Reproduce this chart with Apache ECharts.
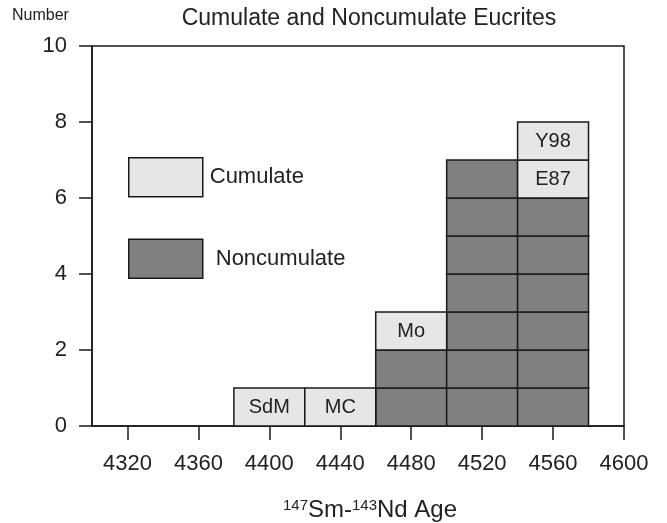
<!DOCTYPE html>
<html>
<head>
<meta charset="utf-8">
<script src="https://cdn.jsdelivr.net/npm/echarts@6/dist/echarts.min.js"></script>
<style>
  html, body { margin: 0; padding: 0; background: #fff; }
  #chart { width: 667px; height: 523px; }
</style>
</head>
<body>
<div id="chart"></div>
<script>
// bins of 40 Ma, left edges
const binStarts = [4380, 4420, 4460, 4500, 4540];
const binWidth = 40;
// number of noncumulate eucrites in each bin
const noncumulateCounts = [0, 0, 2, 7, 6];
// cumulate eucrites stacked on top, one box per sample
const cumulateNames = [['SdM'], ['MC'], ['Mo'], [], ['E87', 'Y98']];
const xTicks = [4320, 4360, 4400, 4440, 4480, 4520, 4560, 4600];

// one unit box per meteorite: [x0, x1, y0, y1, label]
const nonCells = [];
const cumCells = [];
binStarts.forEach((x0, i) => {
  const x1 = x0 + binWidth;
  for (let k = 0; k < noncumulateCounts[i]; k++) {
    nonCells.push([x0, x1, k, k + 1, '']);
  }
  cumulateNames[i].forEach((name, j) => {
    const y0 = noncumulateCounts[i] + j;
    cumCells.push([x0, x1, y0, y0 + 1, name]);
  });
});

const font = '"Liberation Sans", Arial, sans-serif';
const ink = '#1a1a1a';

const renderCell = (fill) => (params, api) => {
  const p0 = api.coord([api.value(0), api.value(3)]);
  const p1 = api.coord([api.value(1), api.value(2)]);
  const label = api.value(4);
  return {
    type: 'rect',
    shape: { x: p0[0], y: p0[1], width: p1[0] - p0[0], height: p1[1] - p0[1] },
    style: { fill: fill, stroke: ink, lineWidth: 1.5 },
    textContent: label ? {
      style: { text: label, fill: '#222', font: '20px ' + font }
    } : undefined,
    textConfig: { position: 'inside' }
  };
};

const chart = echarts.init(document.getElementById('chart'));

chart.setOption({
  animation: false,
  backgroundColor: '#fff',
  textStyle: { fontFamily: font },
  title: [
    {
      text: 'Cumulate and Noncumulate Eucrites',
      left: 364,
      textAlign: 'center',
      top: 2,
      textStyle: { fontSize: 23, fontWeight: 'normal', color: '#222', fontFamily: font }
    },
    {
      text: 'Number',
      left: 7,
      top: 3,
      textStyle: { fontSize: 16, fontWeight: 'normal', color: '#222', fontFamily: font }
    }
  ],
  legend: {
    orient: 'vertical',
    left: 123,
    top: 152,
    itemWidth: 74,
    itemHeight: 39,
    itemGap: 41,
    icon: 'rect',
    textStyle: { fontSize: 22, color: '#222', fontFamily: font, padding: [0, 0, 0, 2] },
    data: [
      { name: 'Cumulate', itemStyle: { color: '#e6e6e6', borderColor: ink, borderWidth: 1.5 } },
      {
        name: 'Noncumulate',
        itemStyle: { color: '#808080', borderColor: ink, borderWidth: 1.5 },
        textStyle: { padding: [0, 0, 8, 8] }
      }
    ]
  },
  grid: {
    left: 92,
    right: 43,
    top: 46,
    bottom: 97,
    outerBoundsMode: 'none',
    show: true,
    borderColor: ink,
    borderWidth: 1.5
  },
  xAxis: {
    type: 'value',
    min: 4300,
    max: 4600,
    name: '{sup|147}{base|Sm-}{sup|143}{base|Nd Age}',
    nameLocation: 'middle',
    nameGap: 72,
    nameTextStyle: {
      padding: [0, 0, 0, 24],
      rich: {
        base: { fontSize: 24, color: '#222', fontFamily: font, verticalAlign: 'bottom' },
        sup: { fontSize: 15, color: '#222', fontFamily: font, verticalAlign: 'top', padding: [0, 0, 9, 0] }
      }
    },
    axisLine: { show: true, lineStyle: { color: ink, width: 1.5 } },
    axisTick: { show: true, length: 14, customValues: xTicks, lineStyle: { color: ink, width: 1.5 } },
    axisLabel: {
      customValues: xTicks,
      formatter: (v) => String(v),
      margin: 27,
      fontSize: 22,
      color: '#222',
      fontFamily: font
    },
    splitLine: { show: false }
  },
  yAxis: {
    type: 'value',
    min: 0,
    max: 10,
    interval: 2,
    axisLine: { show: true, lineStyle: { color: ink, width: 1.5 } },
    axisTick: { show: true, length: 13, lineStyle: { color: ink, width: 1.5 } },
    axisLabel: { margin: 25, fontSize: 22, color: '#222', fontFamily: font },
    splitLine: { show: false }
  },
  series: [
    {
      name: 'Noncumulate',
      type: 'custom',
      renderItem: renderCell('#808080'),
      encode: { x: [0, 1], y: [2, 3] },
      itemStyle: { color: '#808080' },
      data: nonCells
    },
    {
      name: 'Cumulate',
      type: 'custom',
      renderItem: renderCell('#e6e6e6'),
      encode: { x: [0, 1], y: [2, 3] },
      itemStyle: { color: '#e6e6e6' },
      data: cumCells
    }
  ]
});
</script>
</body>
</html>
